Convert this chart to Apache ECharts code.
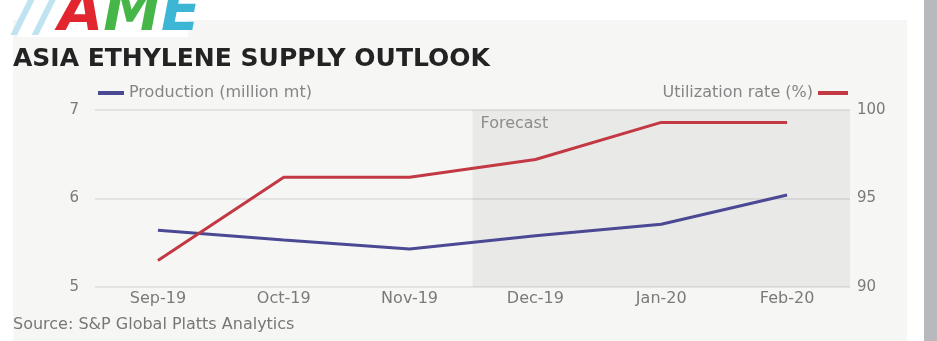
<!DOCTYPE html>
<html>
<head>
<meta charset="utf-8">
<script src="https://cdn.jsdelivr.net/npm/echarts@6/dist/echarts.min.js"></script>
<style>
html,body{margin:0;padding:0;background:#ffffff;}
#chart{width:937px;height:341px;}
</style>
</head>
<body>
<div id="chart"></div>
<script>
var months = ['Sep-19', 'Oct-19', 'Nov-19', 'Dec-19', 'Jan-20', 'Feb-20'];
var production = [5.64, 5.53, 5.43, 5.58, 5.71, 6.04];
var utilization = [91.5, 96.2, 96.2, 97.2, 99.3, 99.3];
var forecastRange = [2.5, 5.5];
var leftTicks = {min: 5, max: 7, interval: 1};
var rightTicks = {min: 90, max: 100, interval: 5};

var FONT = 'DejaVu Sans';
var chart = echarts.init(document.getElementById('chart'), null, {renderer: 'canvas'});

chart.setOption({
  backgroundColor: '#ffffff',
  animation: false,
  textStyle: {fontFamily: FONT},
  graphic: [
    {type: 'rect', z: -10, shape: {x: 13, y: 20, width: 894, height: 321}, style: {fill: '#f6f6f4'}},
    {type: 'rect', z: -10, shape: {x: 924, y: 0, width: 13, height: 341}, style: {fill: '#b9b9bd'}},
    {type: 'rect', z: -9, shape: {x: 18, y: 0, width: 170, height: 37}, style: {fill: '#ffffff'}},
    {type: 'text', z: 10, left: 16, top: -14, style: {
      text: '{s|//}{a|A}{m|M}{e|E}', fontFamily: FONT, fontWeight: 'bold', fontStyle: 'italic', fontSize: 58,
      rich: {
        s: {fill: '#bfe3f0', fontSize: 58, fontWeight: 'bold', fontStyle: 'italic', fontFamily: FONT},
        a: {fill: '#e2262f', fontSize: 58, fontWeight: 'bold', fontStyle: 'italic', fontFamily: FONT},
        m: {fill: '#47b649', fontSize: 58, fontWeight: 'bold', fontStyle: 'italic', fontFamily: FONT},
        e: {fill: '#3db6d6', fontSize: 58, fontWeight: 'bold', fontStyle: 'italic', fontFamily: FONT}
      }
    }},
    {type: 'text', z: 10, left: 13, top: 47, style: {
      text: 'ASIA ETHYLENE SUPPLY OUTLOOK', fontFamily: FONT, fontWeight: 'bold', fontSize: 25, fill: '#232323'
    }},
    {type: 'text', z: 10, left: 13, top: 317, style: {
      text: 'Source: S&P Global Platts Analytics', fontFamily: FONT, fontSize: 16, fill: '#777777'
    }}
  ],
  legend: [
    {
      data: ['Production (million mt)'], left: 93, top: 80, icon: 'rect', itemWidth: 26, itemHeight: 4, itemGap: 6,
      textStyle: {color: '#858585', fontSize: 16, fontFamily: FONT}
    },
    {
      data: ['Utilization rate (%)'], right: 84, top: 80, icon: 'rect', itemWidth: 30, itemHeight: 4, align: 'right',
      textStyle: {color: '#858585', fontSize: 16, fontFamily: FONT}
    }
  ],
  grid: {left: 95, right: 87, top: 110, bottom: 54, containLabel: false},
  xAxis: [
    {
      type: 'category', data: months, boundaryGap: true,
      axisLine: {show: false}, axisTick: {show: false},
      axisLabel: {color: '#7a7a7a', fontSize: 16, margin: 4, fontFamily: FONT}
    },
    {type: 'value', min: -0.5, max: 5.5, show: false}
  ],
  yAxis: [
    {
      type: 'value', min: leftTicks.min, max: leftTicks.max, interval: leftTicks.interval, position: 'left',
      axisLine: {show: false}, axisTick: {show: false},
      axisLabel: {color: '#7a7a7a', fontSize: 15, margin: 16, fontFamily: FONT},
      splitLine: {show: true, lineStyle: {color: '#e3e3e3', width: 2}}
    },
    {
      type: 'value', min: rightTicks.min, max: rightTicks.max, interval: rightTicks.interval, position: 'right',
      axisLine: {show: false}, axisTick: {show: false},
      axisLabel: {color: '#7a7a7a', fontSize: 15, margin: 7, fontFamily: FONT},
      splitLine: {show: false}
    }
  ],
  series: [
    {
      name: 'forecast', type: 'line', xAxisIndex: 1, yAxisIndex: 0, data: [], z: -2, silent: true,
      markArea: {
        silent: true,
        itemStyle: {color: 'rgba(0,0,0,0.05)'},
        label: {show: true, position: 'insideTopLeft', distance: 6, offset: [2, 0], color: '#8c8c8c', fontSize: 16, fontFamily: FONT},
        data: [[{name: 'Forecast', xAxis: forecastRange[0]}, {xAxis: forecastRange[1]}]]
      }
    },
    {
      name: 'Production (million mt)', type: 'line', xAxisIndex: 0, yAxisIndex: 0, data: production,
      symbol: 'none', z: 3,
      lineStyle: {color: '#4b4994', width: 3}, itemStyle: {color: '#4b4994'}
    },
    {
      name: 'Utilization rate (%)', type: 'line', xAxisIndex: 0, yAxisIndex: 1, data: utilization,
      symbol: 'none', z: 3,
      lineStyle: {color: '#c23943', width: 3}, itemStyle: {color: '#c23943'}
    }
  ]
});
</script>
</body>
</html>
